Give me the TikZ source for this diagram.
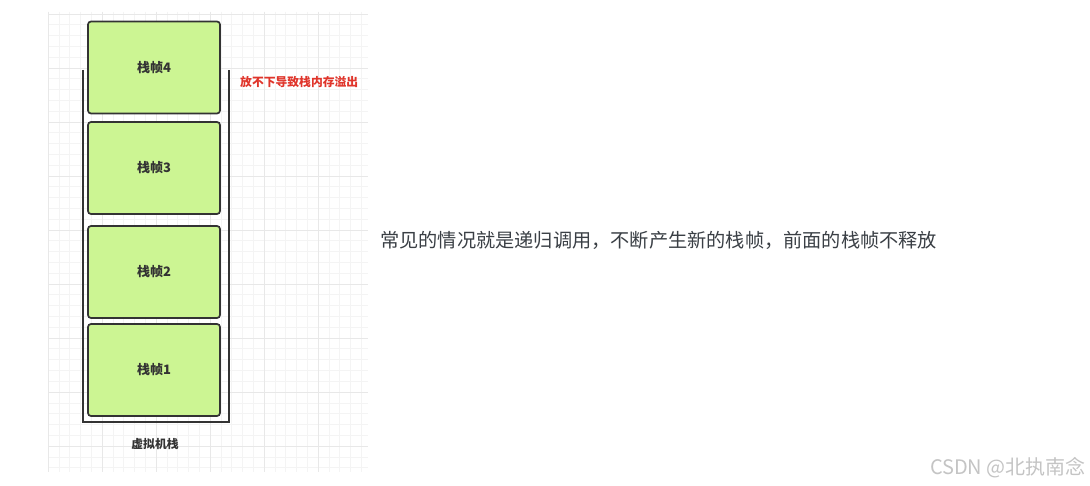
\documentclass[tikz,border=0pt]{standalone}
\usepackage{fontspec}
\newfontfamily\cjk{Noto Sans CJK SC}
\definecolor{framefill}{HTML}{CCF593}
\definecolor{frameline}{HTML}{333333}
\definecolor{warnred}{HTML}{E0352B}
\definecolor{gridminor}{HTML}{F4F4F4}
\definecolor{gridmajor}{HTML}{E8E8E8}
\definecolor{maintext}{HTML}{3A3F45}
\definecolor{wm}{HTML}{C4C4C4}
\tikzset{
  stackframe/.style={draw=frameline, line width=1.7pt, fill=framefill, rounded corners=3pt,
    minimum width=132pt, minimum height=92pt, inner sep=0pt, font=\cjk\bfseries\fontsize{13}{15}\selectfont, text=frameline},
  wall/.style={draw=frameline, line width=1.7pt},
}
\begin{document}
\begin{tikzpicture}[x=1pt,y=-1pt]
\useasboundingbox (0,0) rectangle (1090,486);
\fill[white] (0,0) rectangle (1090,486);
% grid
\foreach \x in {48,58.8,...,368} \draw[gridminor, line width=0.6pt] (\x,12) -- (\x,472);
\foreach \y in {14,24.8,...,472} \draw[gridminor, line width=0.6pt] (48,\y) -- (368,\y);
\foreach \x in {48,102,...,368} \draw[gridmajor, line width=0.7pt] (\x,12) -- (\x,472);
\foreach \y in {14,68,...,472} \draw[gridmajor, line width=0.7pt] (48,\y) -- (368,\y);
% container
\coordinate (wl) at (83,70);
\coordinate (wr) at (229,70);
\draw[wall] (wl) -- (83,422) -- (229,422) -- (wr);
% frames
\node[stackframe] (f4) at (154,67.5) {栈帧4};
\node[stackframe] (f3) at (154,168) {栈帧3};
\node[stackframe] (f2) at (154,272) {栈帧2};
\node[stackframe] (f1) at (154,370) {栈帧1};
\node[font=\cjk\bfseries\fontsize{11.8}{13}\selectfont, text=frameline] (vm) at (155,444) {虚拟机栈};
\node[font=\cjk\bfseries\fontsize{11.8}{13}\selectfont, text=warnred, anchor=west, inner sep=0pt] (warn) at (240,82) {放不下导致栈内存溢出};
\node[font=\cjk\fontsize{19.2}{21}\selectfont, text=maintext, anchor=west, inner sep=0pt] (desc) at (380,240) {常见的情况就是递归调用，不断产生新的栈帧，前面的栈帧不释放};
\node[font=\cjk\fontsize{20}{22}\selectfont, text=wm, anchor=east, inner sep=0pt] (mark) at (1086,468) {CSDN @北执南念};
\end{tikzpicture}
\end{document}
